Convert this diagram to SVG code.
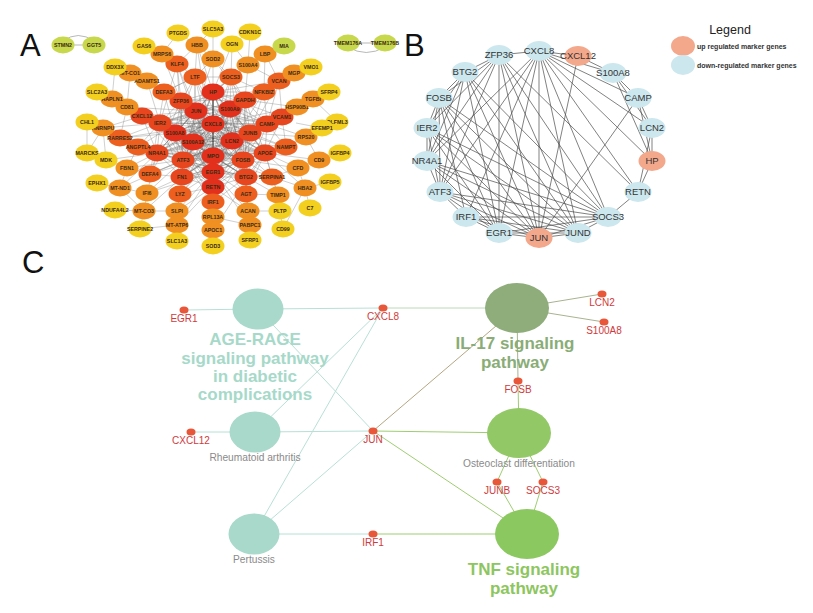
<svg xmlns="http://www.w3.org/2000/svg" width="813" height="613" viewBox="0 0 813 613">
<style>
.pl{font-family:"Liberation Sans",Arial,sans-serif;font-size:31px;fill:#111}
.an text{font-family:"Liberation Sans",Arial,sans-serif;font-size:5.3px;font-weight:bold;fill:#3a2a12;text-anchor:middle}
.an ellipse{rx:11.5px;ry:8.5px}
.r ellipse{fill:#e3301d}
.rr ellipse{fill:#e8461e}
.or ellipse{fill:#ec5f1f}
.o ellipse{fill:#f09022}
.y ellipse{fill:#f3cf20}
.g ellipse{fill:#c8d84c}
.ae{fill:none;stroke:#5a5a5a;stroke-width:0.4;stroke-opacity:0.8}
.ae2{fill:none;stroke:#8a8a8a;stroke-width:0.5;stroke-opacity:0.8}
.bn ellipse{rx:13.5px;ry:10px}
.bn text{font-family:"Liberation Sans",Arial,sans-serif;font-size:9.5px;fill:#333;text-anchor:middle}
.bu ellipse{fill:#f3a88c}
.bd ellipse{fill:#cce7ee}
.be{fill:none;stroke:#4a4a4a;stroke-width:0.7}
.leg{font-family:"Liberation Sans",Arial,sans-serif;font-size:7px;font-weight:bold;fill:#333}
.cd ellipse{fill:#e8573a;rx:4.5px;ry:3.6px}
.cd text{font-family:"Liberation Sans",Arial,sans-serif;font-size:10px;fill:#d03a3c;text-anchor:middle}
.cs{font-family:"Liberation Sans",Arial,sans-serif;font-size:10.2px;fill:#8a8a8a;text-anchor:middle}
.cb{font-family:"Liberation Sans",Arial,sans-serif;font-size:17px;font-weight:bold;text-anchor:middle}
.te{stroke:#b8e0d6;stroke-width:1;fill:none}
.ge{stroke:#9fcd72;stroke-width:1;fill:none}
.oe{stroke:#a9b390;stroke-width:1;fill:none}
</style>

<text class="pl" x="20" y="56">A</text>
<text class="pl" x="404" y="56">B</text>
<text class="pl" x="22" y="273">C</text>

<!-- Panel A connectors -->
<g id="a-edges">
<path class="ae" d="M213 92L196 111M213 92L230 109M213 92L213 124M213 92L175 133M213 92L193 142M213 92L232 141M213 92L183 160M213 92L243 160M213 92L160 123M213 92L181 101M213 92L157 153M213 92L245 100M213 92L250 133M213 92L267 124M213 92L265 153M213 92L246 177M213 92L182 177M213 92L213 187
M196 111L230 109M196 111L213 124M196 111L175 133M196 111L193 142M196 111L232 141M196 111L213 156M196 111L213 172M196 111L213 187M196 111L183 160M196 111L243 160M196 111L160 123M196 111L181 101M196 111L157 153M196 111L245 100M196 111L250 133M196 111L267 124M196 111L265 153M196 111L246 177M196 111L182 177
M230 109L213 124M230 109L175 133M230 109L193 142M230 109L232 141M230 109L213 156M230 109L213 172M230 109L213 187M230 109L183 160M230 109L243 160M230 109L160 123M230 109L181 101M230 109L157 153M230 109L245 100M230 109L250 133M230 109L267 124M230 109L265 153M230 109L246 177M230 109L182 177
M213 124L175 133M213 124L193 142M213 124L232 141M213 124L183 160M213 124L243 160M213 124L160 123M213 124L181 101M213 124L157 153M213 124L245 100M213 124L250 133M213 124L267 124M213 124L265 153M213 124L246 177M213 124L182 177
M175 133L193 142M175 133L232 141M175 133L213 156M175 133L213 172M175 133L213 187M175 133L183 160M175 133L243 160M175 133L160 123M175 133L181 101M175 133L157 153M175 133L245 100M175 133L250 133M175 133L267 124M175 133L265 153M175 133L246 177M175 133L182 177
M193 142L232 141M193 142L213 156M193 142L213 172M193 142L213 187M193 142L183 160M193 142L243 160M193 142L160 123M193 142L181 101M193 142L157 153M193 142L245 100M193 142L250 133M193 142L267 124M193 142L265 153M193 142L246 177M193 142L182 177
M232 141L213 156M232 141L213 172M232 141L213 187M232 141L183 160M232 141L243 160M232 141L160 123M232 141L181 101M232 141L157 153M232 141L245 100M232 141L250 133M232 141L267 124M232 141L265 153M232 141L246 177M232 141L182 177
M213 156L183 160M213 156L243 160M213 156L160 123M213 156L181 101M213 156L157 153M213 156L245 100M213 156L250 133M213 156L267 124M213 156L265 153M213 156L246 177M213 156L182 177
M213 172L183 160M213 172L243 160M213 172L160 123M213 172L181 101M213 172L157 153M213 172L245 100M213 172L250 133M213 172L267 124M213 172L265 153M213 172L246 177M213 172L182 177
M213 187L183 160M213 187L243 160M213 187L160 123M213 187L181 101M213 187L157 153M213 187L245 100M213 187L250 133M213 187L267 124M213 187L265 153M213 187L246 177M213 187L182 177
M183 160L243 160M183 160L160 123M183 160L181 101M183 160L157 153M183 160L245 100M183 160L250 133M183 160L267 124M183 160L265 153M183 160L246 177M183 160L182 177
M243 160L160 123M243 160L181 101M243 160L157 153M243 160L245 100M243 160L250 133M243 160L267 124M243 160L265 153M243 160L246 177M243 160L182 177
M160 123L181 101M160 123L157 153M160 123L245 100M160 123L250 133M160 123L267 124M160 123L265 153M160 123L246 177M160 123L182 177
M181 101L157 153M181 101L245 100M181 101L250 133M181 101L267 124M181 101L265 153M181 101L246 177M181 101L182 177
M157 153L245 100M157 153L250 133M157 153L267 124M157 153L265 153M157 153L246 177M157 153L182 177
M245 100L250 133M245 100L267 124M245 100L265 153M245 100L246 177M245 100L182 177
M250 133L267 124M250 133L265 153M250 133L246 177M250 133L182 177
M267 124L265 153M267 124L246 177M267 124L182 177M265 153L246 177M265 153L182 177M246 177L182 177"/>
<path d="M213 92L213 187" stroke="#222" stroke-width="0.9" fill="none"/>
<path class="ae2" d="M195 77L213 92M195 77L196 111M195 77L181 101M195 77L213 124M195 77L213 156M195 77L175 133M195 77L177 64M195 77L231 77M195 77L164 92M195 77L232 141M195 77L193 142
M231 77L213 92M231 77L245 100M231 77L250 133M231 77L213 124M231 77L196 111M231 77L230 109M231 77L243 160M231 77L264 92M231 77L213 59M231 77L248 65M231 77L213 156
M142 116L160 123M142 116L213 124M142 116L196 111M142 116L183 160M142 116L157 153M142 116L175 133M142 116L127 107M142 116L112 99M142 116L243 160M142 116L213 172
M164 92L195 77M164 92L181 101M164 92L213 156M164 92L232 141M164 92L175 133M164 92L147 81M164 92L213 124M164 92L150 174
M264 92L245 100M264 92L250 133M264 92L213 124M264 92L160 123M264 92L213 92M264 92L279 81M264 92L267 124M264 92L181 101M264 92L213 172
M177 64L181 101M177 64L196 111M177 64L213 172M177 64L183 160M177 64L160 123M177 64L162 54M177 64L197 45
M282 117L267 124M282 117L250 133M282 117L213 124M282 117L213 156M282 117L213 92M282 117L279 81M282 117L265 153M282 117L297 107M282 117L286 147
M272 177L265 153M272 177L246 177M272 177L243 160M272 177L213 156M272 177L213 172M272 177L213 124M272 177L298 168M272 177L305 188M272 177L278 195
M150 174L157 153M150 174L183 160M150 174L182 177M150 174L213 156M150 174L232 141M150 174L175 133M150 174L127 168
M180 194L182 177M180 194L213 172M180 194L213 156M180 194L213 187M180 194L213 124M180 194L193 142M180 194L232 141M180 194L177 211
M213 202L213 187M213 202L196 111M213 202L183 160M213 202L243 160M213 202L246 177M213 202L213 217M213 202L175 133
M246 194L246 177M246 194L243 160M246 194L213 172M246 194L213 156M246 194L265 153M246 194L248 211M246 194L278 195M246 194L250 225
M279 81L245 100M279 81L267 124M279 81L213 92M279 81L294 73M279 81L248 65M279 81L265 54M279 81L250 133
M286 147L265 153M286 147L267 124M286 147L213 124M286 147L250 133M286 147L232 141M286 147L213 156M286 147L306 137
M120 138L160 123M120 138L157 153M120 138L175 133M120 138L213 124M120 138L138 147M120 138L103 128M120 138L127 107
M138 147L157 153M138 147L160 123M138 147L183 160M138 147L196 111M138 147L193 142M138 147L213 156M138 147L127 168
M147 81L181 101M147 81L196 111M147 81L213 124M147 81L130 73M147 81L160 123
M213 59L213 92M213 59L195 77M213 59L196 111M213 59L197 45M213 59L245 100
M197 45L213 92M197 45L195 77M197 45L213 156
M130 73L181 101M130 73L115 67M130 73L127 107M130 73L196 111
M127 107L160 123M127 107L175 133M127 107L112 99M127 107L196 111
M103 128L160 123M103 128L87 122M103 128L87 153M103 128L106 160M103 128L142 116
M127 168L157 153M127 168L183 160M127 168L106 160M127 168L120 188
M147 193L182 177M147 193L183 160M147 193L120 188M147 193L144 211M147 193L157 153M147 193L213 172
M177 211L182 177M177 211L213 172M177 211L213 187M177 211L177 225M177 211L144 211
M248 211L246 177M248 211L213 172M248 211L213 187M248 211L250 225
M298 168L265 153M298 168L305 188M298 168L319 160M298 168L243 160
M297 107L267 124M297 107L245 100M297 107L313 99M297 107L213 124M297 107L250 133
M306 137L267 124M306 137L265 153M306 137L322 128M306 137L319 160M306 137L250 133
M278 195L246 177M278 195L280 211M278 195L265 153
M305 188L310 208M305 188L330 182M305 188L283 229M305 188L265 153
M177 225L213 187M177 225L140 229M177 225L177 241M177 225L213 172
M213 217L213 187M213 217L213 230M213 217L250 225M213 217L213 172
M250 225L250 240M250 225L213 172M213 230L213 246M213 230L265 153
M248 65L245 100M248 65L213 92M248 65L265 54M294 73L311 67M294 73L264 92M294 73L245 100
M265 54L284 46M265 54L264 92M265 54L213 92M162 54L144 46M162 54L181 101M162 54L178 33
M120 188L97 183M120 188L144 211M120 188L157 153M120 188L183 160M144 211L115 210M144 211L182 177M144 211L140 229
M319 160L340 153M319 160L265 153M112 99L97 92M112 99L115 67M112 99L160 123M313 99L329 92M313 99L282 117M313 99L337 122
M178 33L197 45M144 46L177 64M87 122L87 153M87 153L106 160M106 160L157 153M280 211L248 211M283 229L280 211M322 128L296 123M232 44L248 65M232 44L213 92M232 44L231 77M250 32L232 44M250 32L248 65M213 29L213 59M213 29L197 45"/>
<path d="M63 45L94 45M63 41Q78 30 94 41M348 43L385 43M348 47Q366 58 385 47" stroke="#999" stroke-width="0.7" fill="none"/>
</g>

<!-- Panel A nodes -->
<g class="an">
<g id="a-HP" class="r"><ellipse cx="213" cy="92"/><text x="213" y="94">HP</text></g>
<g id="a-JUN" class="r"><ellipse cx="196" cy="111"/><text x="196" y="113">JUN</text></g>
<g id="a-S100A9" class="r"><ellipse cx="230" cy="109"/><text x="230" y="111">S100A9</text></g>
<g id="a-CXCL8" class="r"><ellipse cx="213" cy="124"/><text x="213" y="126">CXCL8</text></g>
<g id="a-S100A8" class="r"><ellipse cx="175" cy="133"/><text x="175" y="135">S100A8</text></g>
<g id="a-S100A12" class="r"><ellipse cx="193" cy="142"/><text x="193" y="144">S100A12</text></g>
<g id="a-LCN2" class="r"><ellipse cx="232" cy="141"/><text x="232" y="143">LCN2</text></g>
<g id="a-MPO" class="r"><ellipse cx="213" cy="156"/><text x="213" y="158">MPO</text></g>
<g id="a-EGR1" class="r"><ellipse cx="213" cy="172"/><text x="213" y="174">EGR1</text></g>
<g id="a-RETN" class="r"><ellipse cx="213" cy="187"/><text x="213" y="189">RETN</text></g>
<g id="a-ATF3" class="rr"><ellipse cx="183" cy="160"/><text x="183" y="162">ATF3</text></g>
<g id="a-FOSB" class="rr"><ellipse cx="243" cy="160"/><text x="243" y="162">FOSB</text></g>
<g id="a-IER2" class="rr"><ellipse cx="160" cy="123"/><text x="160" y="125">IER2</text></g>
<g id="a-ZFP36" class="rr"><ellipse cx="181" cy="101"/><text x="181" y="103">ZFP36</text></g>
<g id="a-NR4A1" class="rr"><ellipse cx="157" cy="153"/><text x="157" y="155">NR4A1</text></g>
<g id="a-GAPDH" class="rr"><ellipse cx="245" cy="100"/><text x="245" y="102">GAPDH</text></g>
<g id="a-JUNB" class="rr"><ellipse cx="250" cy="133"/><text x="250" y="135">JUNB</text></g>
<g id="a-CAMP" class="rr"><ellipse cx="267" cy="124"/><text x="267" y="126">CAMP</text></g>
<g id="a-APOE" class="rr"><ellipse cx="265" cy="153"/><text x="265" y="155">APOE</text></g>
<g id="a-BTG2" class="rr"><ellipse cx="246" cy="177"/><text x="246" y="179">BTG2</text></g>
<g id="a-FN1" class="rr"><ellipse cx="182" cy="177"/><text x="182" y="179">FN1</text></g>

<g id="a-LTF" class="or"><ellipse cx="195" cy="77"/><text x="195" y="79">LTF</text></g>
<g id="a-SOCS3" class="or"><ellipse cx="231" cy="77"/><text x="231" y="79">SOCS3</text></g>
<g id="a-CXCL12" class="rr"><ellipse cx="142" cy="116"/><text x="142" y="118">CXCL12</text></g>
<g id="a-DEFA3" class="or"><ellipse cx="164" cy="92"/><text x="164" y="94">DEFA3</text></g>
<g id="a-NFKBIZ" class="or"><ellipse cx="264" cy="92"/><text x="264" y="94">NFKBIZ</text></g>
<g id="a-KLF4" class="or"><ellipse cx="177" cy="64"/><text x="177" y="66">KLF4</text></g>
<g id="a-VCAM1" class="rr"><ellipse cx="282" cy="117"/><text x="282" y="119">VCAM1</text></g>
<g id="a-SERPINA1" class="or"><ellipse cx="272" cy="177"/><text x="272" y="179">SERPINA1</text></g>
<g id="a-DEFA4" class="or"><ellipse cx="150" cy="174"/><text x="150" y="176">DEFA4</text></g>
<g id="a-LYZ" class="or"><ellipse cx="180" cy="194"/><text x="180" y="196">LYZ</text></g>
<g id="a-IRF1" class="or"><ellipse cx="213" cy="202"/><text x="213" y="204">IRF1</text></g>
<g id="a-AGT" class="or"><ellipse cx="246" cy="194"/><text x="246" y="196">AGT</text></g>
<g id="a-VCAN" class="or"><ellipse cx="279" cy="81"/><text x="279" y="83">VCAN</text></g>
<g id="a-NAMPT" class="or"><ellipse cx="286" cy="147"/><text x="286" y="149">NAMPT</text></g>
<g id="a-RARRES2" class="or"><ellipse cx="120" cy="138"/><text x="120" y="140">RARRES2</text></g>
<g id="a-ANGPTL4" class="or"><ellipse cx="138" cy="147"/><text x="138" y="149">ANGPTL4</text></g>

<g id="a-ADAMTS1" class="o"><ellipse cx="147" cy="81"/><text x="147" y="83">ADAMTS1</text></g>
<g id="a-SOD2" class="o"><ellipse cx="213" cy="59"/><text x="213" y="61">SOD2</text></g>
<g id="a-HBB" class="o"><ellipse cx="197" cy="45"/><text x="197" y="47">HBB</text></g>
<g id="a-MT-CO1" class="o"><ellipse cx="130" cy="73"/><text x="130" y="75">MT-CO1</text></g>
<g id="a-CD81" class="o"><ellipse cx="127" cy="107"/><text x="127" y="109">CD81</text></g>
<g id="a-HNRNPU" class="o"><ellipse cx="103" cy="128"/><text x="103" y="130">HNRNPU</text></g>
<g id="a-FBN1" class="o"><ellipse cx="127" cy="168"/><text x="127" y="170">FBN1</text></g>
<g id="a-IFI6" class="o"><ellipse cx="147" cy="193"/><text x="147" y="195">IFI6</text></g>
<g id="a-SLPI" class="o"><ellipse cx="177" cy="211"/><text x="177" y="213">SLPI</text></g>
<g id="a-ACAN" class="o"><ellipse cx="248" cy="211"/><text x="248" y="213">ACAN</text></g>
<g id="a-CFD" class="o"><ellipse cx="298" cy="168"/><text x="298" y="170">CFD</text></g>
<g id="a-HSP90B1" class="o"><ellipse cx="297" cy="107"/><text x="297" y="109">HSP90B1</text></g>
<g id="a-RPS20" class="o"><ellipse cx="306" cy="137"/><text x="306" y="139">RPS20</text></g>
<g id="a-TIMP1" class="o"><ellipse cx="278" cy="195"/><text x="278" y="197">TIMP1</text></g>
<g id="a-HBA2" class="o"><ellipse cx="305" cy="188"/><text x="305" y="190">HBA2</text></g>
<g id="a-MT-ATP6" class="o"><ellipse cx="177" cy="225"/><text x="177" y="227">MT-ATP6</text></g>
<g id="a-RPL13A" class="o"><ellipse cx="213" cy="217"/><text x="213" y="219">RPL13A</text></g>
<g id="a-PABPC1" class="o"><ellipse cx="250" cy="225"/><text x="250" y="227">PABPC1</text></g>
<g id="a-APOC1" class="o"><ellipse cx="213" cy="230"/><text x="213" y="232">APOC1</text></g>
<g id="a-S100A4" class="o"><ellipse cx="248" cy="65"/><text x="248" y="67">S100A4</text></g>
<g id="a-MGP" class="o"><ellipse cx="294" cy="73"/><text x="294" y="75">MGP</text></g>
<g id="a-LBP" class="o"><ellipse cx="265" cy="54"/><text x="265" y="56">LBP</text></g>
<g id="a-MRPS6" class="o"><ellipse cx="162" cy="54"/><text x="162" y="56">MRPS6</text></g>
<g id="a-MT-ND1" class="o"><ellipse cx="120" cy="188"/><text x="120" y="190">MT-ND1</text></g>
<g id="a-MT-CO3" class="o"><ellipse cx="144" cy="211"/><text x="144" y="213">MT-CO3</text></g>
<g id="a-CD9" class="o"><ellipse cx="319" cy="160"/><text x="319" y="162">CD9</text></g>
<g id="a-HAPLN1" class="o"><ellipse cx="112" cy="99"/><text x="112" y="101">HAPLN1</text></g>
<g id="a-TGFBI" class="o"><ellipse cx="313" cy="99"/><text x="313" y="101">TGFBI</text></g>

<g id="a-PTGDS" class="y"><ellipse cx="178" cy="33"/><text x="178" y="35">PTGDS</text></g>
<g id="a-GAS6" class="y"><ellipse cx="144" cy="46"/><text x="144" y="48">GAS6</text></g>
<g id="a-DDX3X" class="y"><ellipse cx="115" cy="67"/><text x="115" y="69">DDX3X</text></g>
<g id="a-SLC2A3" class="y"><ellipse cx="97" cy="92"/><text x="97" y="94">SLC2A3</text></g>
<g id="a-CHL1" class="y"><ellipse cx="87" cy="122"/><text x="87" y="124">CHL1</text></g>
<g id="a-MARCKS" class="y"><ellipse cx="87" cy="153"/><text x="87" y="155">MARCKS</text></g>
<g id="a-MDK" class="y"><ellipse cx="106" cy="160"/><text x="106" y="162">MDK</text></g>
<g id="a-EPHX1" class="y"><ellipse cx="97" cy="183"/><text x="97" y="185">EPHX1</text></g>
<g id="a-NDUFA4L2" class="y"><ellipse cx="115" cy="210"/><text x="115" y="212">NDUFA4L2</text></g>
<g id="a-SERPINE2" class="y"><ellipse cx="140" cy="229"/><text x="140" y="231">SERPINE2</text></g>
<g id="a-SLC1A3" class="y"><ellipse cx="177" cy="241"/><text x="177" y="243">SLC1A3</text></g>
<g id="a-SOD3" class="y"><ellipse cx="213" cy="246"/><text x="213" y="248">SOD3</text></g>
<g id="a-SFRP1" class="y"><ellipse cx="250" cy="240"/><text x="250" y="242">SFRP1</text></g>
<g id="a-CD99" class="y"><ellipse cx="283" cy="229"/><text x="283" y="231">CD99</text></g>
<g id="a-PLTP" class="y"><ellipse cx="280" cy="211"/><text x="280" y="213">PLTP</text></g>
<g id="a-C7" class="y"><ellipse cx="310" cy="208"/><text x="310" y="210">C7</text></g>
<g id="a-IGFBP5" class="y"><ellipse cx="330" cy="182"/><text x="330" y="184">IGFBP5</text></g>
<g id="a-IGFBP4" class="y"><ellipse cx="340" cy="153"/><text x="340" y="155">IGFBP4</text></g>
<g id="a-OLFML3" class="y"><ellipse cx="337" cy="122"/><text x="337" y="124">OLFML3</text></g>
<g id="a-EFEMP1" class="y"><ellipse cx="322" cy="128"/><text x="322" y="130">EFEMP1</text></g>
<g id="a-SFRP4" class="y"><ellipse cx="329" cy="92"/><text x="329" y="94">SFRP4</text></g>
<g id="a-VMO1" class="y"><ellipse cx="311" cy="67"/><text x="311" y="69">VMO1</text></g>
<g id="a-OGN" class="y"><ellipse cx="232" cy="44"/><text x="232" y="46">OGN</text></g>
<g id="a-CDKN1C" class="y"><ellipse cx="250" cy="32"/><text x="250" y="34">CDKN1C</text></g>
<g id="a-SLC5A3" class="y"><ellipse cx="213" cy="29"/><text x="213" y="31">SLC5A3</text></g>

<g id="a-STMN2" class="g"><ellipse cx="63" cy="45"/><text x="63" y="47">STMN2</text></g>
<g id="a-GGT5" class="g"><ellipse cx="94" cy="45"/><text x="94" y="47">GGT5</text></g>
<g id="a-MIA" class="g"><ellipse cx="284" cy="46"/><text x="284" y="48">MIA</text></g>
<g id="a-TMEM176A" class="g"><ellipse cx="348" cy="43"/><text x="348" y="45">TMEM176A</text></g>
<g id="a-TMEM176B" class="g"><ellipse cx="385" cy="43"/><text x="385" y="45">TMEM176B</text></g>
</g>

<!-- Panel B connectors -->
<g id="b-edges">
<path class="be" d="M539 51L499 55M539 51L578 56M539 51L613 73M539 51L638 98M539 51L652 128M539 51L652 161M539 51L638 192M539 51L608 217M539 51L578 233M539 51L539 238M539 51L499 233M539 51L466 217M539 51L440 192M539 51L427 161
M578 56L613 73M578 56L539 238
M499 55L465 72M499 55L439 98M499 55L427 128M499 55L427 161M499 55L440 192M499 55L499 233M499 55L539 238M499 55L578 233M499 55L608 217M499 55L638 192
M465 72L439 98M465 72L427 128M465 72L427 161M465 72L440 192M465 72L499 233M465 72L539 238M465 72L578 233M465 72L608 217
M439 98L427 128M439 98L427 161M439 98L440 192M439 98L466 217M439 98L499 233M439 98L539 238M439 98L578 233M439 98L608 217
M427 128L427 161M427 128L440 192M427 128L499 233M427 128L539 238M427 128L578 233M427 128L608 217
M427 161L440 192M427 161L499 233M427 161L539 238M427 161L578 233M427 161L608 217
M440 192L466 217M440 192L499 233M440 192L539 238M440 192L578 233M440 192L608 217
M466 217L499 233M466 217L539 238M466 217L578 233M466 217L608 217
M499 233L539 238M499 233L578 233M499 233L608 217
M539 238L578 233M539 238L608 217M539 238L638 98M578 233L608 217M608 217L638 192
M638 192L652 161M638 192L652 128M652 161L652 128M652 161L638 98M652 161L613 73M638 98L652 128M638 98L613 73M613 73L652 128"/>
</g>

<!-- Panel B nodes -->
<g class="bn">
<g id="b-CXCL8" class="bd"><ellipse cx="539" cy="51"/><text x="539" y="54">CXCL8</text></g>
<g id="b-CXCL12" class="bu"><ellipse cx="578" cy="56"/><text x="578" y="59">CXCL12</text></g>
<g id="b-ZFP36" class="bd"><ellipse cx="499" cy="55"/><text x="499" y="58">ZFP36</text></g>
<g id="b-BTG2" class="bd"><ellipse cx="465" cy="72"/><text x="465" y="75">BTG2</text></g>
<g id="b-S100A8" class="bd"><ellipse cx="613" cy="73"/><text x="613" y="76">S100A8</text></g>
<g id="b-FOSB" class="bd"><ellipse cx="439" cy="98"/><text x="439" y="101">FOSB</text></g>
<g id="b-CAMP" class="bd"><ellipse cx="638" cy="98"/><text x="638" y="101">CAMP</text></g>
<g id="b-IER2" class="bd"><ellipse cx="427" cy="128"/><text x="427" y="131">IER2</text></g>
<g id="b-LCN2" class="bd"><ellipse cx="652" cy="128"/><text x="652" y="131">LCN2</text></g>
<g id="b-NR4A1" class="bd"><ellipse cx="427" cy="161"/><text x="427" y="164">NR4A1</text></g>
<g id="b-HP" class="bu"><ellipse cx="652" cy="161"/><text x="652" y="164">HP</text></g>
<g id="b-ATF3" class="bd"><ellipse cx="440" cy="192"/><text x="440" y="195">ATF3</text></g>
<g id="b-RETN" class="bd"><ellipse cx="638" cy="192"/><text x="638" y="195">RETN</text></g>
<g id="b-IRF1" class="bd"><ellipse cx="466" cy="217"/><text x="466" y="220">IRF1</text></g>
<g id="b-SOCS3" class="bd"><ellipse cx="608" cy="217"/><text x="608" y="220">SOCS3</text></g>
<g id="b-EGR1" class="bd"><ellipse cx="499" cy="233"/><text x="499" y="236">EGR1</text></g>
<g id="b-JUN" class="bu"><ellipse cx="539" cy="238"/><text x="539" y="241">JUN</text></g>
<g id="b-JUND" class="bd"><ellipse cx="578" cy="233"/><text x="578" y="236">JUND</text></g>
</g>

<!-- Legend -->
<g id="legend">
<text x="730" y="34" font-family="Liberation Sans, Arial, sans-serif" font-size="12.5" fill="#222" text-anchor="middle">Legend</text>
<ellipse cx="683" cy="46" rx="12" ry="10" fill="#f3a88c"/>
<text class="leg" x="697" y="48.5">up regulated marker genes</text>
<ellipse cx="683" cy="65" rx="12" ry="10" fill="#cce7ee"/>
<text class="leg" x="697" y="67.5">down-regulated marker genes</text>
</g>

<!-- Panel C connectors -->
<g id="c-edges">
<path class="te" d="M184 310L258 309M258 309L383 308M258 309L373 431M191 432L255 432M255 432L383 308M255 432L373 431M254 534L383 308M254 534L373 431M254 534L373 534"/>
<path d="M383 308L517 308" stroke="#bcd8b8" stroke-width="1" fill="none"/>
<path d="M373 431L517 308" stroke="#b4a682" stroke-width="1" fill="none"/>
<path class="oe" d="M517 308L602 294M517 308L604 322M517 308L518 381"/>
<path class="ge" d="M518 381L519 433M373 431L519 433M373 431L527 534M373 534L527 534M519 433L497 482L527 534M519 433L543 482L527 534"/>
</g>

<!-- Panel C nodes -->
<g id="c-AGE-RAGE"><ellipse cx="258" cy="309" rx="25.5" ry="20.5" fill="#a9d9cb"/>
<text class="cb" fill="#a6d9c9" x="255" y="345">AGE-RAGE</text>
<text class="cb" fill="#a6d9c9" x="255" y="364">signaling pathway</text>
<text class="cb" fill="#a6d9c9" x="255" y="382">in diabetic</text>
<text class="cb" fill="#a6d9c9" x="255" y="400">complications</text></g>
<g id="c-RA"><ellipse cx="255" cy="432" rx="25.5" ry="20.5" fill="#a9d9cb"/><text class="cs" x="255" y="461">Rheumatoid arthritis</text></g>
<g id="c-Pertussis"><ellipse cx="254" cy="534" rx="25.5" ry="20.5" fill="#a9d9cb"/><text class="cs" x="254" y="563">Pertussis</text></g>
<g id="c-IL17"><ellipse cx="517" cy="308" rx="32" ry="25" fill="#8fad7b"/>
<text class="cb" fill="#8aad77" x="515" y="349">IL-17 signaling</text>
<text class="cb" fill="#8aad77" x="515" y="368">pathway</text></g>
<g id="c-Osteoclast"><ellipse cx="519" cy="433" rx="32" ry="25" fill="#93c866"/><text class="cs" x="519" y="467">Osteoclast differentiation</text></g>
<g id="c-TNF"><ellipse cx="527" cy="534" rx="32" ry="25" fill="#8cc860"/>
<text class="cb" fill="#8dc65f" x="524" y="575">TNF signaling</text>
<text class="cb" fill="#8dc65f" x="524" y="594">pathway</text></g>

<g class="cd">
<g id="c-EGR1"><ellipse cx="184" cy="310"/><text x="184" y="322">EGR1</text></g>
<g id="c-CXCL12"><ellipse cx="191" cy="432"/><text x="191" y="444">CXCL12</text></g>
<g id="c-CXCL8"><ellipse cx="383" cy="308"/><text x="383" y="320">CXCL8</text></g>
<g id="c-JUN"><ellipse cx="373" cy="431"/><text x="373" y="443">JUN</text></g>
<g id="c-IRF1"><ellipse cx="373" cy="534"/><text x="373" y="546">IRF1</text></g>
<g id="c-LCN2"><ellipse cx="602" cy="294"/><text x="602" y="306">LCN2</text></g>
<g id="c-S100A8"><ellipse cx="604" cy="322"/><text x="604" y="334">S100A8</text></g>
<g id="c-FOSB"><ellipse cx="518" cy="381"/><text x="518" y="393">FOSB</text></g>
<g id="c-JUNB"><ellipse cx="497" cy="482"/><text x="497" y="494">JUNB</text></g>
<g id="c-SOCS3"><ellipse cx="543" cy="482"/><text x="543" y="494">SOCS3</text></g>
</g>
</svg>
